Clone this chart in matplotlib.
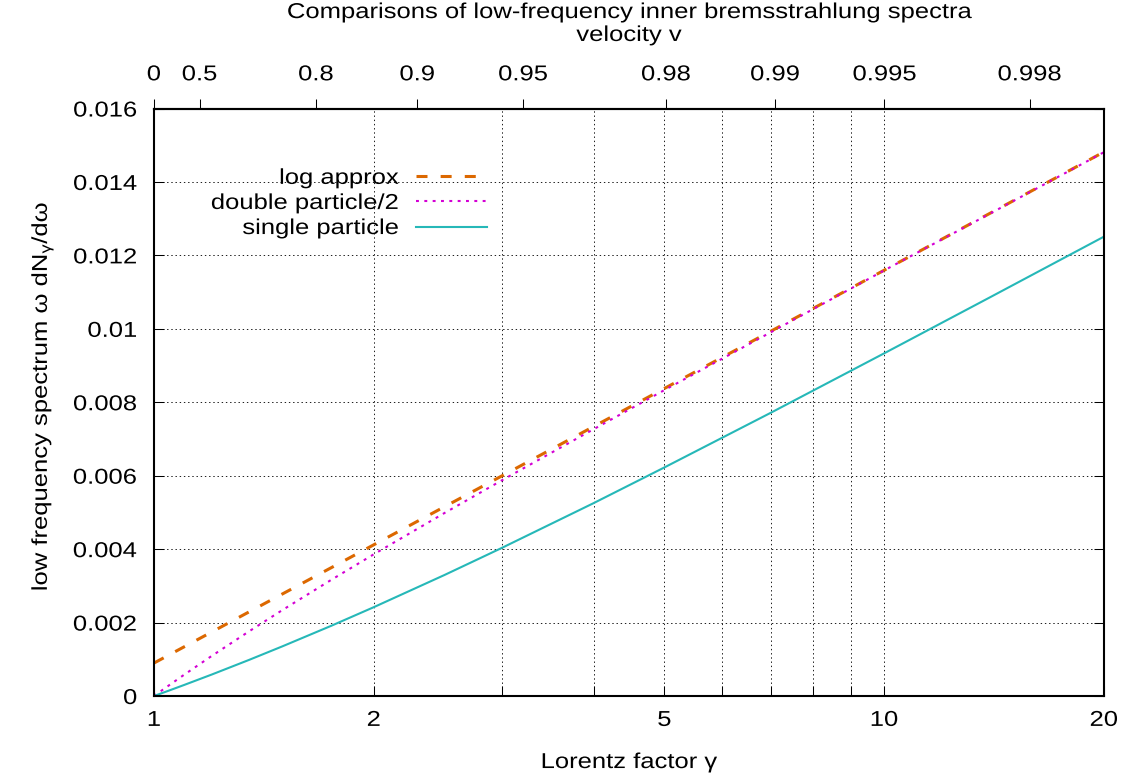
import numpy as np
import matplotlib
matplotlib.use("Agg")
import matplotlib.pyplot as plt
from matplotlib.patheffects import AbstractPathEffect
from matplotlib.ticker import NullLocator
from matplotlib.transforms import Affine2D

# Lorentz factor and the low-frequency spectra omega dN/domega at each one
gamma = [1.0, 1.02, 1.05, 1.1, 1.2, 1.35, 1.5, 1.75, 2.0, 2.5, 3.0, 4.0, 5.0, 7.0, 10.0, 14.0, 20.0]
log_approx = [0.000897, 0.000989, 0.001124, 0.00134, 0.001744, 0.002292, 0.002781, 0.003497,
              0.004118, 0.005155, 0.006001, 0.007338, 0.008375, 0.009938, 0.011595, 0.013158, 0.014817]
double_half = [0.0, 0.000122, 0.000299, 0.00058, 0.001092, 0.001762, 0.002343, 0.003166,
               0.003859, 0.004984, 0.005881, 0.007265, 0.00833, 0.00991, 0.01159, 0.01315, 0.01481]
single = [0.0, 0.0000615, 0.0001525, 0.000301, 0.000585, 0.000984, 0.001354, 0.001914,
          0.002419, 0.003296, 0.00404, 0.005252, 0.006224, 0.007717, 0.009332, 0.01087, 0.01251]

x_ticks = [1, 2, 3, 4, 5, 6, 7, 8, 9, 10, 20]
x_labels = ["1", "2", "", "", "5", "", "", "", "", "10", "20"]
y_ticks = [0, 0.002, 0.004, 0.006, 0.008, 0.01, 0.012, 0.014, 0.016]
v_ticks = [0, 0.5, 0.8, 0.9, 0.95, 0.98, 0.99, 0.995, 0.998]

FS = 15.5
WIDE = 1.19

plt.rcParams["font.family"] = ["Liberation Sans", "DejaVu Sans"]


class Widen(AbstractPathEffect):
    """Draw a text wider than its font, keeping one edge (or the middle) in place."""

    def __init__(self, factor=WIDE, anchor="center", vertical=False):
        super().__init__()
        self.factor = factor
        self.anchor = anchor
        self.vertical = vertical

    def draw_path(self, renderer, gc, tpath, affine, rgbFace=None):
        box = tpath.get_extents(affine)
        if self.vertical:
            y0 = (box.y0 + box.y1) / 2
            stretch = Affine2D().translate(0, -y0).scale(1, self.factor).translate(0, y0)
        else:
            x0 = {"left": box.x0, "center": (box.x0 + box.x1) / 2, "right": box.x1}[self.anchor]
            stretch = Affine2D().translate(-x0, 0).scale(self.factor, 1).translate(x0, 0)
        renderer.draw_path(gc, tpath, affine + stretch, rgbFace)


def gamma_to_v(g):
    g = np.clip(np.asarray(g, dtype=float), 1.0, None)
    return np.sqrt(1 - 1 / g ** 2)


def v_to_gamma(v):
    v = np.clip(np.asarray(v, dtype=float), 0.0, 0.9999999)
    return 1 / np.sqrt(1 - v ** 2)


fig = plt.figure(figsize=(11.27, 7.83), dpi=100)
ax = fig.add_axes([0.1366, 0.1111, 0.8429, 0.7503])

ax.plot(gamma, log_approx, color="#dc6800", lw=2.2, ls=(0, (3.6, 4.3)), label="log approx")
ax.plot(gamma, double_half, color="#d400d4", lw=1.5, ls=(0, (1.4, 2.6)), label="double particle/2")
ax.plot(gamma, single, color="#26b8b8", lw=1.5, label="single particle")

ax.set_xscale("log")
ax.set_xlim(1, 20)
ax.set_ylim(0, 0.016)
ax.set_xticks(x_ticks, labels=x_labels)
ax.xaxis.set_minor_locator(NullLocator())
ax.set_yticks(y_ticks, labels=["%g" % y for y in y_ticks])

ax.tick_params(axis="x", direction="in", length=7.2, width=0.75, top=False, pad=10, labelsize=FS)
ax.tick_params(axis="y", direction="in", length=7.2, width=0.75, right=True, pad=12, labelsize=FS)
ax.grid(True, color="#222222", lw=0.72, ls=(0, (1.4, 2.8)))
for s in ax.spines.values():
    s.set_linewidth(1.5)

# velocity scale along the top
sec = ax.secondary_xaxis("top", functions=(gamma_to_v, v_to_gamma))
sec.set_xticks(v_ticks, labels=["%g" % v for v in v_ticks])
sec.xaxis.set_minor_locator(NullLocator())
sec.tick_params(direction="out", length=7.2, width=0.75, pad=9.5, labelsize=FS)
sec.spines["top"].set_linewidth(1.5)

title = ax.text(0.5, 1.154, "Comparisons of low-frequency inner bremsstrahlung spectra",
                ha="center", va="baseline", fontsize=FS, transform=ax.transAxes)
vlab = ax.text(0.5, 1.115, "velocity v", ha="center", va="baseline", fontsize=FS,
               transform=ax.transAxes)

ax.set_xlabel("Lorentz factor γ", fontsize=FS)
ax.xaxis.set_label_coords(0.5, -0.1226)
ax.xaxis.label.set_va("baseline")
ax.set_ylabel(r"low frequency spectrum ω dN$_\mathregular{γ}$/dω", fontsize=FS)
ax.yaxis.set_label_coords(-0.1126, 0.51)
ax.yaxis.label.set_va("baseline")

leg = ax.legend(loc="upper right", bbox_to_anchor=(0.3505, 0.899), frameon=False,
                markerfirst=False, handlelength=3.3, handletextpad=0.8, labelspacing=0.19,
                borderpad=0, borderaxespad=0, fontsize=FS)
for col in leg._legend_handle_box.get_children():
    col.align = "right"

for t in ax.get_xticklabels() + sec.get_xticklabels() + [title, vlab, ax.xaxis.label]:
    t.set_path_effects([Widen(anchor="center")])
for t in ax.get_yticklabels() + leg.get_texts():
    t.set_path_effects([Widen(anchor="right")])
ax.yaxis.label.set_path_effects([Widen(vertical=True)])

fig.savefig("out.png", dpi=100)
